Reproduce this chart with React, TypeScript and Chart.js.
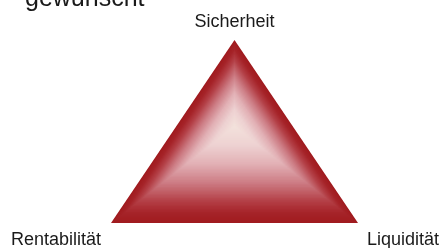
import React, { useEffect, useRef } from "react";
import { Chart, registerables } from "chart.js";

Chart.register(...registerables);

// Vertices of the "magic triangle" (data units = page coordinates of the diagram space)
const vertexLabels = ["Sicherheit", "Rentabilität", "Liquidität"];
const vertexX = [234.5, 111, 358];
const vertexY = [40, 223, 223];
const headingText = "gewünscht";

const X_MAX = 442;
const Y_MAX = 248;

type RGB = [number, number, number];
const stops: [number, RGB][] = [
  [0.0, [160, 27, 31]],
  [0.1, [166, 36, 41]],
  [0.22, [180, 64, 71]],
  [0.4, [204, 122, 130]],
  [0.6, [226, 176, 181]],
  [0.8, [238, 210, 210]],
  [1.0, [243, 226, 220]],
];

function colorAt(t: number): string {
  for (let i = 1; i < stops.length; i++) {
    if (t <= stops[i][0]) {
      const [t0, c0] = stops[i - 1];
      const [t1, c1] = stops[i];
      const f = (t - t0) / (t1 - t0);
      const c = c0.map((v, k) => Math.round(v + (c1[k] - v) * f));
      return `rgb(${c[0]},${c[1]},${c[2]})`;
    }
  }
  const c = stops[stops.length - 1][1];
  return `rgb(${c[0]},${c[1]},${c[2]})`;
}

const shadePlugin = {
  id: "triangleShade",
  afterDatasetsDraw(chart: any) {
    const meta = chart.getDatasetMeta(0);
    const pts = meta.data.slice(0, 3).map((p: any) => ({ x: p.x, y: p.y }));
    const apex = pts[0];
    const baseY = (pts[1].y + pts[2].y) / 2;
    const fx = apex.x;
    const fy = apex.y + 0.47 * (baseY - apex.y);
    const ctx = chart.ctx as CanvasRenderingContext2D;
    ctx.save();
    const N = 70;
    for (let i = 0; i < N; i++) {
      const t = i / N;
      const s = 1 - t;
      ctx.beginPath();
      pts.forEach((p: any, k: number) => {
        const x = fx + (p.x - fx) * s;
        const y = fy + (p.y - fy) * s;
        if (k === 0) ctx.moveTo(x, y);
        else ctx.lineTo(x, y);
      });
      ctx.closePath();
      ctx.fillStyle = colorAt(t);
      ctx.fill();
    }
    // labels
    ctx.fillStyle = "#1a1a1a";
    ctx.font = '18px "Liberation Sans", Arial, sans-serif';
    ctx.textBaseline = "alphabetic";
    ctx.textAlign = "center";
    ctx.fillText(vertexLabels[0], pts[0].x, pts[0].y - 13);
    ctx.textAlign = "right";
    ctx.fillText(vertexLabels[1], pts[1].x - 10, pts[1].y + 22);
    ctx.textAlign = "left";
    ctx.fillText(vertexLabels[2], pts[2].x + 9, pts[2].y + 22);
    ctx.font = '25px "Liberation Sans", Arial, sans-serif';
    ctx.fillText(headingText, 25, 6);
    ctx.restore();
  },
};

export default function App() {
  const ref = useRef<HTMLCanvasElement | null>(null);
  useEffect(() => {
    if (!ref.current) return;
    const data = vertexX.map((x, i) => ({ x, y: vertexY[i] }));
    data.push({ ...data[0] });
    const chart = new Chart(ref.current, {
      type: "scatter",
      data: {
        datasets: [
          {
            data,
            showLine: true,
            fill: true,
            backgroundColor: "rgb(160,27,31)",
            borderColor: "rgb(150,24,28)",
            borderWidth: 0,
            pointRadius: 0,
          } as any,
        ],
      },
      options: {
        animation: false,
        responsive: false,
        maintainAspectRatio: false,
        layout: { padding: 0 },
        plugins: { legend: { display: false }, tooltip: { enabled: false } },
        scales: {
          x: { type: "linear", min: 0, max: X_MAX, display: false },
          y: { type: "linear", min: 0, max: Y_MAX, reverse: true, display: false },
        },
      },
      plugins: [shadePlugin],
    });
    return () => chart.destroy();
  }, []);
  return (
    <div style={{ position: "fixed", left: 0, top: 0, width: 442, height: 248, background: "#fff" }}>
      <canvas ref={ref} width={442} height={248} style={{ display: "block" }} />
    </div>
  );
}
